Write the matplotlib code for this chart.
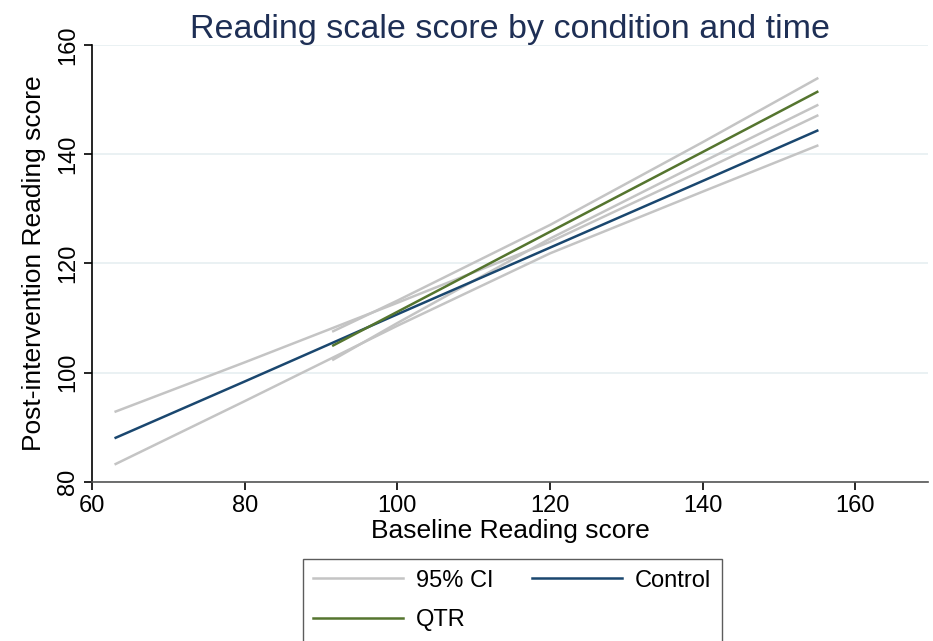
import matplotlib.pyplot as plt

plt.rcParams["font.family"] = ["Liberation Sans", "DejaVu Sans"]

# fitted lines and 95% CI bands
control_x = [63.1, 80, 100, 120, 140, 155]
control_fit = [88.1, 98.4, 110.7, 122.9, 135.1, 144.3]
control_lo = [83.3, 94.8, 108.6, 121.85, 133.15, 141.55]
control_hi = [92.9, 101.9, 112.8, 123.95, 137.05, 147.05]

qtr_x = [91.6, 100, 120, 140, 155]
qtr_fit = [105.0, 111.15, 125.8, 140.4, 151.4]
qtr_lo = [102.4, 109.1, 124.55, 138.6, 148.95]
qtr_hi = [107.6, 113.2, 127.05, 142.2, 153.85]

x_ticks = [60, 80, 100, 120, 140, 160]
y_ticks = [80, 100, 120, 140, 160]

CI_COLOR = "#c4c4c4"
CONTROL_COLOR = "#1a476f"
QTR_COLOR = "#55752f"

fig = plt.figure(figsize=(9.33, 6.41), dpi=100)
ax = fig.add_axes([0.0986, 0.248, 0.896, 0.682])

ci1, = ax.plot(control_x, control_lo, color=CI_COLOR, lw=1.8)
ax.plot(control_x, control_hi, color=CI_COLOR, lw=1.8)
ax.plot(qtr_x, qtr_lo, color=CI_COLOR, lw=1.8)
ax.plot(qtr_x, qtr_hi, color=CI_COLOR, lw=1.8)
ctl, = ax.plot(control_x, control_fit, color=CONTROL_COLOR, lw=1.8)
qtr, = ax.plot(qtr_x, qtr_fit, color=QTR_COLOR, lw=1.8)

ax.set_xlim(60, 169.5)
ax.set_ylim(80, 160)
ax.set_xticks(x_ticks)
ax.set_yticks(y_ticks)
ax.tick_params(axis="both", labelsize=17, length=6, width=1.2, direction="out")
for lab in ax.get_yticklabels():
    lab.set_rotation(90)
    lab.set_va("center")

ax.grid(True, axis="y", color="#e6eff1", lw=1.2)
ax.set_axisbelow(True)
for s in ["top", "right"]:
    ax.spines[s].set_visible(False)
ax.spines["left"].set_color("black")
ax.spines["bottom"].set_color("#555555")
ax.spines["left"].set_linewidth(1.2)
ax.spines["bottom"].set_linewidth(1.2)

ax.set_xlabel("Baseline Reading score", fontsize=19, labelpad=1)
ax.set_ylabel("Post-intervention Reading score", fontsize=19, labelpad=8)
ax.set_title("Reading scale score by condition and time", fontsize=24.5,
             color="#1e2f55", pad=-1)

leg = fig.legend([ci1, qtr, ctl], ["95% CI", "QTR", "Control"],
                 ncol=2, loc="lower center", bbox_to_anchor=(0.549, -0.02),
                 fontsize=17, frameon=True, fancybox=False, edgecolor="#333333",
                 handlelength=3.8, columnspacing=1.65, handletextpad=0.55,
                 borderpad=0.45, labelspacing=0.75)
leg.get_frame().set_linewidth(1.0)

fig.savefig("out.png", dpi=100)
